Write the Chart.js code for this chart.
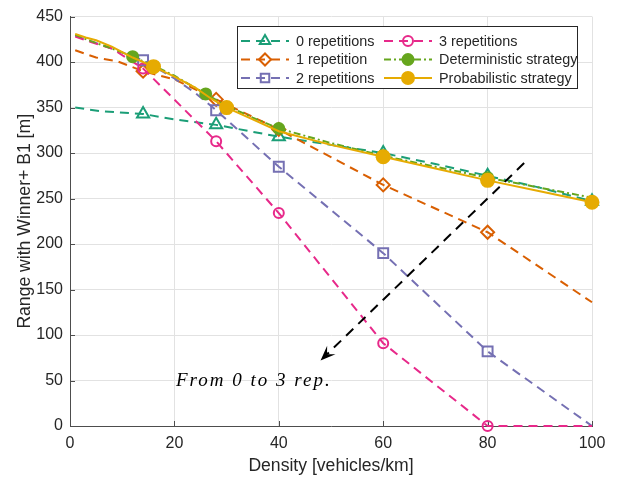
<!DOCTYPE html>
<html>
<head>
<meta charset="utf-8">
<script src="https://cdn.jsdelivr.net/npm/chart.js@4.4.0/dist/chart.umd.min.js"></script>
<style>
	body { margin: 0; background: #fff; }
</style>
</head>
<body>
<canvas id="chart" width="618" height="477"></canvas>
<script>
"use strict";

// values (density in vehicles/km, range in m)
var densityRep0 = [1, 6, 14, 20, 28, 40, 50, 60, 70, 80, 90, 100];
var rangeRep0 = [350, 346, 343, 337, 331, 318, 309, 300, 288, 275, 262, 247];
var marksRep0 = [14, 28, 40, 60, 80, 100];

var densityRep1 = [1, 5, 9, 14, 20, 28, 40, 60, 80, 100];
var rangeRep1 = [413, 405, 401, 390, 381, 359, 326, 265, 213, 136];
var marksRep1 = [14, 28, 40, 60, 80];

var densityRep2 = [1, 4, 8, 14, 20, 24, 28, 40, 60, 80, 100];
var rangeRep2 = [429, 423, 415, 402, 382, 366, 347, 285, 190, 82, 0];
var marksRep2 = [14, 28, 40, 60, 80];

var densityRep3 = [1, 4, 8, 14, 28, 40, 60, 80, 100];
var rangeRep3 = [428, 422, 415, 393, 313, 234, 91, 0, 0];
var marksRep3 = [14, 28, 40, 60, 80];

var densityDet = [1, 4, 8, 12, 16, 20, 26, 30, 35, 40, 50, 60, 70, 80, 90, 100];
var rangeDet = [430, 423, 415, 406, 396, 385, 365, 352, 339, 327, 311, 297, 285, 273, 262, 251];
var marksDet = [12, 26, 40, 60, 80];

var densityProb = [1, 3, 5, 8, 12, 16, 20, 24, 27, 30, 35, 40, 50, 60, 70, 80, 90, 100];
var rangeProb = [431, 427, 424, 417, 405, 395, 384, 372, 360, 350, 337, 324, 309, 296, 283, 270, 258, 246];
var marksProb = [16, 30, 60, 80, 100];

var xTicks = [0, 20, 40, 60, 80, 100];
var yTicks = [0, 50, 100, 150, 200, 250, 300, 350, 400, 450];

// annotation arrow and note, in data units
var arrowTail = [87, 289];
var arrowHead = [48, 72];
var noteText = 'From 0 to 3 rep.';
var notePos = [20.3, 50];

var textColor = '#262626';
var gridColor = '#e2e2e2';
var axisColor = '#4d4d4d';
var fontFamily = '"Liberation Sans", Arial, Helvetica, sans-serif';

function toPoints(xs, ys) {
	return xs.map(function (x, i) {
		return { x: x, y: ys[i] };
	});
}

function markerSizes(xs, marks, size) {
	return xs.map(function (x) {
		return marks.indexOf(x) >= 0 ? size : 0;
	});
}

function makeSeries(label, xs, ys, marks, color, dash, style, size, filled, order) {
	return {
		label: label,
		data: toPoints(xs, ys),
		borderColor: color,
		borderWidth: 2,
		borderDash: dash,
		pointStyle: style,
		pointRadius: markerSizes(xs, marks, size),
		pointBorderColor: color,
		pointBackgroundColor: filled ? color : 'rgba(0,0,0,0)',
		pointBorderWidth: 2,
		fill: false,
		tension: 0,
		clip: false,
		order: order,
		markerSize: size
	};
}

var datasets = [
	makeSeries('0 repetitions', densityRep0, rangeRep0, marksRep0, '#1b9e77', [9, 6], 'triangle', 7, false, 5),
	makeSeries('1 repetition', densityRep1, rangeRep1, marksRep1, '#d95f02', [9, 6], 'rectRot', 6.5, false, 4),
	makeSeries('2 repetitions', densityRep2, rangeRep2, marksRep2, '#7570b3', [9, 6], 'rect', 7, false, 3),
	makeSeries('3 repetitions', densityRep3, rangeRep3, marksRep3, '#e7298a', [9, 6], 'circle', 5, false, 2),
	makeSeries('Deterministic strategy', densityDet, rangeDet, marksDet, '#66a61e', [7, 3, 2, 3], 'circle', 5.5, true, 1),
	makeSeries('Probabilistic strategy', densityProb, rangeProb, marksProb, '#e6ab02', [], 'circle', 6.5, true, 0)
];

// MATLAB style ticks pointing into the axes
var innerTicks = {
	id: 'innerTicks',
	beforeDatasetsDraw: function (chart) {
		var ctx = chart.ctx;
		var area = chart.chartArea;
		var xs = chart.scales.x, ys = chart.scales.y;
		ctx.save();
		ctx.strokeStyle = axisColor;
		ctx.lineWidth = 1;
		ctx.beginPath();
		xTicks.forEach(function (v) {
			var px = Math.round(xs.getPixelForValue(v)) + 0.5;
			ctx.moveTo(px, area.bottom);
			ctx.lineTo(px, area.bottom - 5);
		});
		yTicks.forEach(function (v) {
			var py = Math.round(ys.getPixelForValue(v)) + 0.5;
			ctx.moveTo(area.left, py);
			ctx.lineTo(area.left + 5, py);
		});
		ctx.stroke();
		ctx.restore();
	}
};

// arrow + italic note
var arrowNote = {
	id: 'arrowNote',
	afterDatasetsDraw: function (chart) {
		var ctx = chart.ctx;
		var xs = chart.scales.x, ys = chart.scales.y;
		var x1 = xs.getPixelForValue(arrowTail[0]), y1 = ys.getPixelForValue(arrowTail[1]);
		var x2 = xs.getPixelForValue(arrowHead[0]), y2 = ys.getPixelForValue(arrowHead[1]);
		var ang = Math.atan2(y2 - y1, x2 - x1);
		var c = Math.cos(ang), s = Math.sin(ang);
		var len = 15, half = 6;

		ctx.save();
		ctx.strokeStyle = '#000';
		ctx.fillStyle = '#000';
		ctx.lineWidth = 2;
		ctx.setLineDash([10, 7]);
		ctx.beginPath();
		ctx.moveTo(x1, y1);
		ctx.lineTo(x2 - c * len * 0.6, y2 - s * len * 0.6);
		ctx.stroke();

		ctx.setLineDash([]);
		ctx.beginPath();
		ctx.moveTo(x2, y2);
		ctx.lineTo(x2 - c * len - s * half, y2 - s * len + c * half);
		ctx.lineTo(x2 - c * len * 0.6, y2 - s * len * 0.6);
		ctx.lineTo(x2 - c * len + s * half, y2 - s * len - c * half);
		ctx.closePath();
		ctx.fill();

		ctx.font = 'italic 19px "Liberation Serif", "Times New Roman", serif';
		ctx.letterSpacing = '2px';
		ctx.textAlign = 'left';
		ctx.textBaseline = 'middle';
		ctx.fillStyle = '#000';
		ctx.fillText(noteText, xs.getPixelForValue(notePos[0]), ys.getPixelForValue(notePos[1]));
		ctx.restore();
	}
};

// two-column boxed legend like the MATLAB one
var boxLegend = {
	id: 'boxLegend',
	afterDraw: function (chart) {
		var ctx = chart.ctx;
		var box = { x: 237.5, y: 26.5, w: 340, h: 62 };
		var colX = [241, 384];
		var rowY = [41, 59.5, 78];

		ctx.save();
		ctx.fillStyle = '#fff';
		ctx.fillRect(box.x, box.y, box.w, box.h);
		ctx.strokeStyle = '#262626';
		ctx.lineWidth = 1;
		ctx.strokeRect(box.x, box.y, box.w, box.h);

		chart.data.datasets.forEach(function (ds, i) {
			var col = Math.floor(i / 3), row = i % 3;
			var x0 = colX[col], y0 = rowY[row];
			ctx.strokeStyle = ds.borderColor;
			ctx.lineWidth = ds.borderWidth;
			ctx.setLineDash(ds.borderDash);
			ctx.beginPath();
			ctx.moveTo(x0, y0);
			ctx.lineTo(x0 + 48, y0);
			ctx.stroke();

			ctx.setLineDash([]);
			ctx.fillStyle = ds.pointBackgroundColor;
			ctx.strokeStyle = ds.pointBorderColor;
			ctx.lineWidth = ds.pointBorderWidth;
			Chart.helpers.drawPoint(ctx, {
				pointStyle: ds.pointStyle,
				radius: Math.min(ds.markerSize, 6),
				borderWidth: ds.pointBorderWidth,
				rotation: 0
			}, x0 + 24, y0);

			ctx.fillStyle = textColor;
			ctx.font = '14.4px ' + fontFamily;
			ctx.textAlign = 'left';
			ctx.textBaseline = 'middle';
			ctx.fillText(ds.label, x0 + 55, y0 + 1);
		});
		ctx.restore();
	}
};

var ctx = document.getElementById('chart');
var rangeChart = new Chart(ctx, {
	type: 'line',
	data: { datasets: datasets },
	plugins: [innerTicks, arrowNote, boxLegend],
	options: {
		responsive: false,
		animation: false,
		events: [],
		layout: { padding: { top: 15, right: 26, left: 0, bottom: 0 } },
		plugins: {
			legend: { display: false },
			tooltip: { enabled: false }
		},
		scales: {
			x: {
				type: 'linear',
				min: 0,
				max: 100,
				afterBuildTicks: function (scale) {
					scale.ticks = xTicks.map(function (v) { return { value: v }; });
				},
				ticks: { color: textColor, font: { family: fontFamily, size: 16 }, padding: 8, maxRotation: 0 },
				grid: { color: gridColor, drawTicks: false },
				border: { color: axisColor, width: 1 },
				title: {
					display: true,
					text: 'Density [vehicles/km]',
					color: textColor,
					font: { family: fontFamily, size: 17.6 },
					padding: { top: 0, bottom: 0 }
				},
				afterFit: function (scale) { scale.height = 51; }
			},
			y: {
				type: 'linear',
				min: 0,
				max: 450,
				afterBuildTicks: function (scale) {
					scale.ticks = yTicks.map(function (v) { return { value: v }; });
				},
				ticks: { color: textColor, font: { family: fontFamily, size: 16 }, padding: 7 },
				grid: { color: gridColor, drawTicks: false },
				border: { color: axisColor, width: 1 },
				title: {
					display: true,
					text: 'Range with Winner+ B1 [m]',
					color: textColor,
					font: { family: fontFamily, size: 17.6 },
					padding: { top: 15, bottom: 0 }
				},
				afterFit: function (scale) { scale.width = 70; }
			}
		}
	}
});
</script>
</body>
</html>
